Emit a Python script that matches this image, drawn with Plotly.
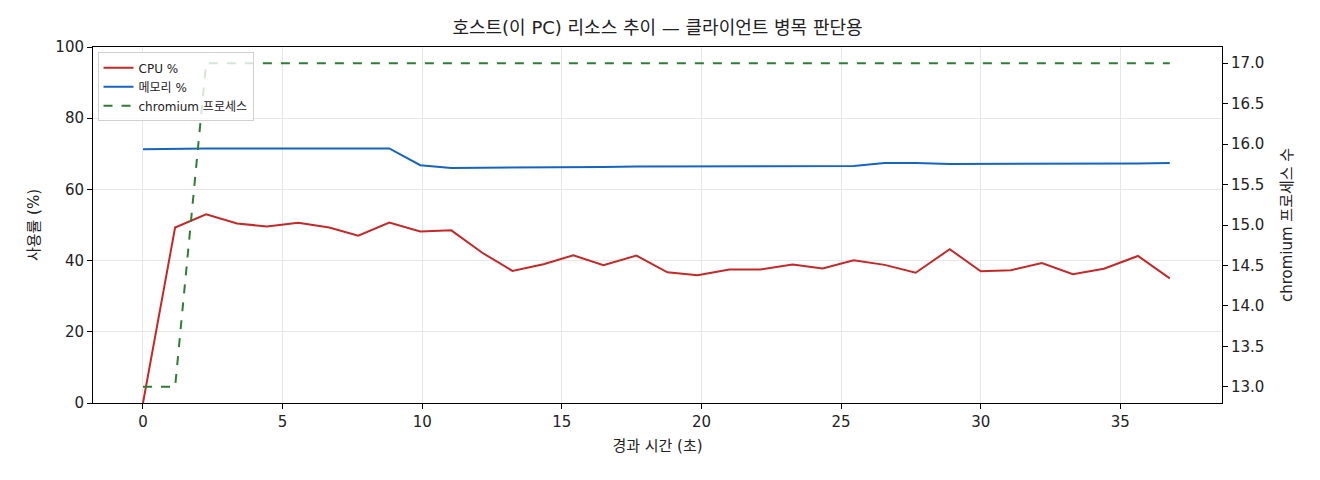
"""
Host (this PC) resource trend, CPU / memory / chromium process count.
"""
import plotly.graph_objects as go

elapsed_s = [0.0, 1.15, 2.26, 3.37, 4.44, 5.56, 6.67, 7.71, 8.82, 9.93,
             11.04, 12.15, 13.23, 14.34, 15.41, 16.49, 17.67, 18.78, 19.86, 21.0,
             22.11, 23.26, 24.34, 25.45, 26.56, 27.67, 28.89, 30.0, 31.08, 32.19,
             33.3, 34.41, 35.63, 36.77]

cpu_pct = [0.0, 49.3, 53.0, 50.4, 49.6, 50.6, 49.3, 47.0, 50.7, 48.2,
           48.5, 42.2, 37.1, 39.0, 41.5, 38.7, 41.4, 36.7, 35.9, 37.5,
           37.5, 38.9, 37.8, 40.1, 38.8, 36.6, 43.2, 37.0, 37.3, 39.3,
           36.2, 37.7, 41.3, 35.0]

mem_pct = [71.3, 71.5, 71.5, 71.5, 71.5, 71.6, 71.5, 71.5, 71.5, 66.8,
           66.0, 66.1, 66.1, 66.2, 66.3, 66.3, 66.4, 66.4, 66.4, 66.4,
           66.5, 66.5, 66.5, 66.6, 67.4, 67.4, 67.1, 67.1, 67.2, 67.2,
           67.2, 67.3, 67.3, 67.4]

chromium_procs = [13, 13, 17, 17, 17, 17, 17, 17, 17, 17,
                  17, 17, 17, 17, 17, 17, 17, 17, 17, 17,
                  17, 17, 17, 17, 17, 17, 17, 17, 17, 17,
                  17, 17, 17, 17]

FONT = "DejaVu Sans, Noto Sans CJK KR"

fig = go.Figure()
fig.add_trace(go.Scatter(x=elapsed_s, y=cpu_pct, mode="lines", name="CPU %",
                         line=dict(color="#c62828", width=2)))
fig.add_trace(go.Scatter(x=elapsed_s, y=mem_pct, mode="lines", name="메모리 %",
                         line=dict(color="#1565c0", width=2)))
fig.add_trace(go.Scatter(x=elapsed_s, y=chromium_procs, mode="lines", name="chromium 프로세스",
                         line=dict(color="#2e7d32", width=2, dash="dash"), yaxis="y2"))

axis_common = dict(showline=True, linecolor="black", linewidth=1, ticks="outside",
                   ticklen=5, tickcolor="black", zeroline=False,
                   tickfont=dict(size=15, color="#222"))

# page body has an 8px margin, so the margins are shifted by that much
fig.update_layout(
    width=1320, height=480,
    paper_bgcolor="white", plot_bgcolor="white",
    font=dict(family=FONT, color="#222"),
    title=dict(text="호스트(이 PC) 리소스 추이 — 클라이언트 병목 판단용", x=0.5, xanchor="center",
               xref="paper", y=0.958, yanchor="middle", font=dict(size=18)),
    margin=dict(l=85, r=106, t=39, b=85),
    xaxis=dict(range=[-1.79, 38.64], tickvals=[0, 5, 10, 15, 20, 25, 30, 35],
               showgrid=True, gridcolor="#e6e6e6", mirror=True,
               title=dict(text="경과 시간 (초)", font=dict(size=15), standoff=10), **axis_common),
    yaxis=dict(range=[0, 100], tickvals=[0, 20, 40, 60, 80, 100],
               showgrid=True, gridcolor="#e6e6e6",
               title=dict(text="사용률 (%)", font=dict(size=15), standoff=12), **axis_common),
    yaxis2=dict(range=[12.8, 17.2], overlaying="y", side="right", showgrid=False,
                tickvals=[13.0, 13.5, 14.0, 14.5, 15.0, 15.5, 16.0, 16.5, 17.0],
                tickformat=".1f",
                title=dict(text="chromium 프로세스 수", font=dict(size=15), standoff=18), **axis_common),
    legend=dict(x=0.004, y=0.985, xanchor="left", yanchor="top",
                bgcolor="rgba(255,255,255,0.8)", bordercolor="#d0d0d0", borderwidth=1,
                font=dict(size=12), tracegroupgap=0),
    showlegend=True,
)

fig.write_html("out.html")
